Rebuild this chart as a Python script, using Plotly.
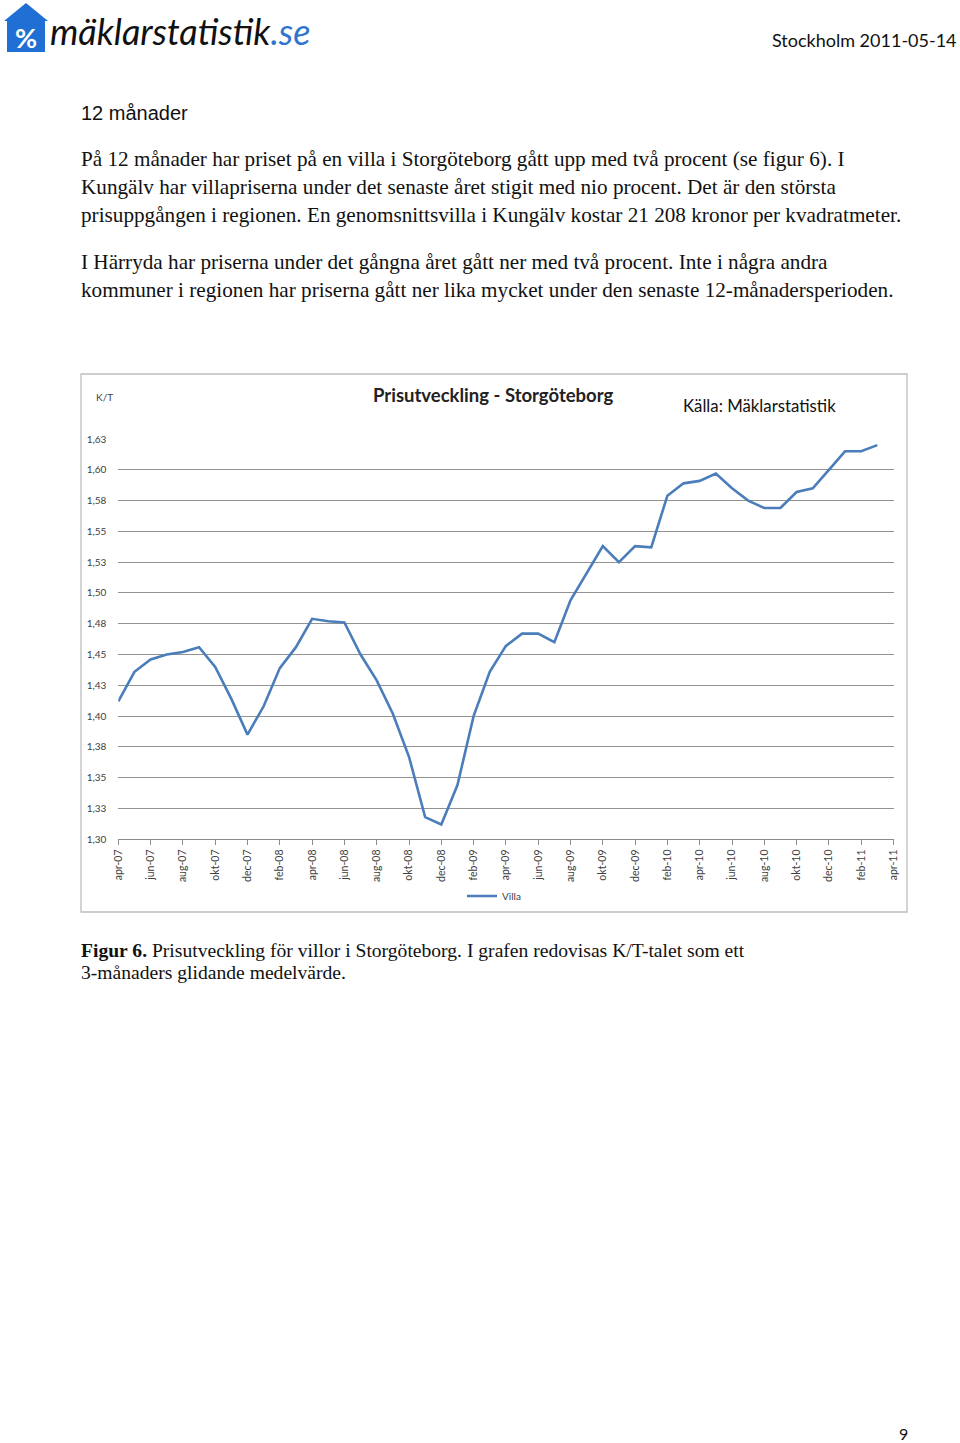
import plotly.graph_objects as go

# ---- data -------------------------------------------------------------
months = ["jan", "feb", "mar", "apr", "maj", "jun", "jul", "aug", "sep", "okt", "nov", "dec"]
categories = []
for yr in range(7, 12):
    for m in months:
        categories.append(f"{m}-{yr:02d}")
categories = categories[categories.index("apr-07"):categories.index("apr-11") + 1]

# K/T, 3-month moving average, apr-07 .. mar-11 (apr-11 has no value)
villa = [
    1.412, 1.436, 1.446, 1.450, 1.452, 1.456, 1.440, 1.414, 1.385, 1.408,
    1.439, 1.456, 1.479, 1.477, 1.476, 1.450, 1.429, 1.402, 1.367, 1.318,
    1.312, 1.344, 1.400, 1.436, 1.457, 1.467, 1.467, 1.460, 1.494, 1.516,
    1.538, 1.525, 1.538, 1.537, 1.579, 1.589, 1.591, 1.597, 1.585, 1.575,
    1.569, 1.569, 1.582, 1.585, 1.600, 1.615, 1.615, 1.620, None,
]

y_tickvals = [1.300, 1.325, 1.350, 1.375, 1.400, 1.425, 1.450, 1.475,
              1.500, 1.525, 1.550, 1.575, 1.600, 1.625]
y_ticktext = ["1,30", "1,33", "1,35", "1,38", "1,40", "1,43", "1,45", "1,48",
              "1,50", "1,53", "1,55", "1,58", "1,60", "1,63"]
x_tickvals = categories[::2]

# ---- page geometry ----------------------------------------------------
W, H = 960, 1443


def px(x):
    return x / W


def py(y):
    return 1 - y / H


fig = go.Figure()
fig.add_trace(go.Scatter(
    x=categories, y=villa, name="Villa", mode="lines",
    line=dict(color="#4a7db9", width=2.6), connectgaps=False,
))

fig.update_xaxes(
    type="category", domain=[px(118.3), px(893.5)], range=[0, 48],
    tickmode="array", tickvals=x_tickvals, tickangle=-90,
    ticks="outside", ticklen=5, tickcolor="#8c8c8c",
    showline=True, linecolor="#8c8c8c", linewidth=1,
    showgrid=False, tickfont=dict(family="Lato", size=10.5, color="#404040"),
)
fig.update_yaxes(
    domain=[py(839.3), py(439)], range=[1.30, 1.625],
    tickmode="array", tickvals=y_tickvals, ticktext=y_ticktext,
    ticks="outside", ticklen=9, tickcolor="rgba(0,0,0,0)",
    showgrid=True, gridcolor="#939393", gridwidth=1, zeroline=False,
    showline=False, tickfont=dict(family="Lato", size=10, color="#404040"),
)

serif = "Liberation Serif"
ann = []


def text(x, y, s, size, family=serif, color="#111111", xanchor="left"):
    ann.append(dict(x=px(x), y=py(y), xref="paper", yref="paper", text=s,
                    showarrow=False, xanchor=xanchor, yanchor="middle",
                    font=dict(family=family, size=size, color=color)))


# header
text(48, 31, "<i>mäklarstatistik</i><span style='color:#2f74d0'><i>.se</i></span>",
     36, family="Lato", color="#111111")
text(26, 37, "<b>%</b>", 27, family="Lato", color="white", xanchor="center")
text(959, 40, "Stockholm 2011-05-14", 18, family="Lato", color="#111111", xanchor="right")

# body
text(79, 113, "12 månader", 20, family="Liberation Sans")
body = [
    (159, "På 12 månader har priset på en villa i Storgöteborg gått upp med två procent (se figur 6). I"),
    (187, "Kungälv har villapriserna under det senaste året stigit med nio procent. Det är den största"),
    (215, "prisuppgången i regionen. En genomsnittsvilla i Kungälv kostar 21 208 kronor per kvadratmeter."),
    (262, "I Härryda har priserna under det gångna året gått ner med två procent. Inte i några andra"),
    (290, "kommuner i regionen har priserna gått ner lika mycket under den senaste 12-månadersperioden."),
]
for y, s in body:
    text(79, y, s, 21.2)

# chart texts
text(493, 395, "<b>Prisutveckling - Storgöteborg</b>", 18.5, family="Lato", color="#222222", xanchor="center")
text(94, 397, "K/T", 10, family="Lato", color="#404040")
text(681, 406, "Källa: Mäklarstatistik", 16.8, family="Lato", color="#111111")

# caption + page number
text(79, 950, "<b>Figur 6.</b> Prisutveckling för villor i Storgöteborg. I grafen redovisas K/T-talet som ett", 19.6)
text(79, 973, "3-månaders glidande medelvärde.", 19.6)
text(903, 1433, "9", 16, family="Lato", color="#111111", xanchor="center")

# logo house + chart frame
house = "M {} {} L {} {} L {} {} L {} {} L {} {} L {} {} L {} {} Z".format(
    px(26), py(3), px(48), py(21), px(45), py(21), px(45), py(52),
    px(7), py(52), px(7), py(21), px(4), py(21))
shapes = [
    dict(type="path", path=house, xref="paper", yref="paper",
         fillcolor="#1f6fd4", line=dict(width=0)),
    dict(type="rect", xref="paper", yref="paper", x0=px(81), x1=px(907),
         y0=py(374), y1=py(912), line=dict(color="#bdbdbd", width=1.3)),
]

fig.update_layout(
    width=W, height=H, margin=dict(l=0, r=0, t=0, b=0, autoexpand=False),
    paper_bgcolor="white", plot_bgcolor="white",
    annotations=ann, shapes=shapes,
    showlegend=True,
    legend=dict(orientation="h", x=px(462), y=py(896), xanchor="left", yanchor="middle",
                font=dict(family="Lato", size=10, color="#404040"), itemwidth=30,
                bgcolor="rgba(0,0,0,0)"),
)

fig.write_html("out.html", config=dict(displayModeBar=False),
               post_script="document.body.style.margin='0';document.body.style.overflow='hidden';")
